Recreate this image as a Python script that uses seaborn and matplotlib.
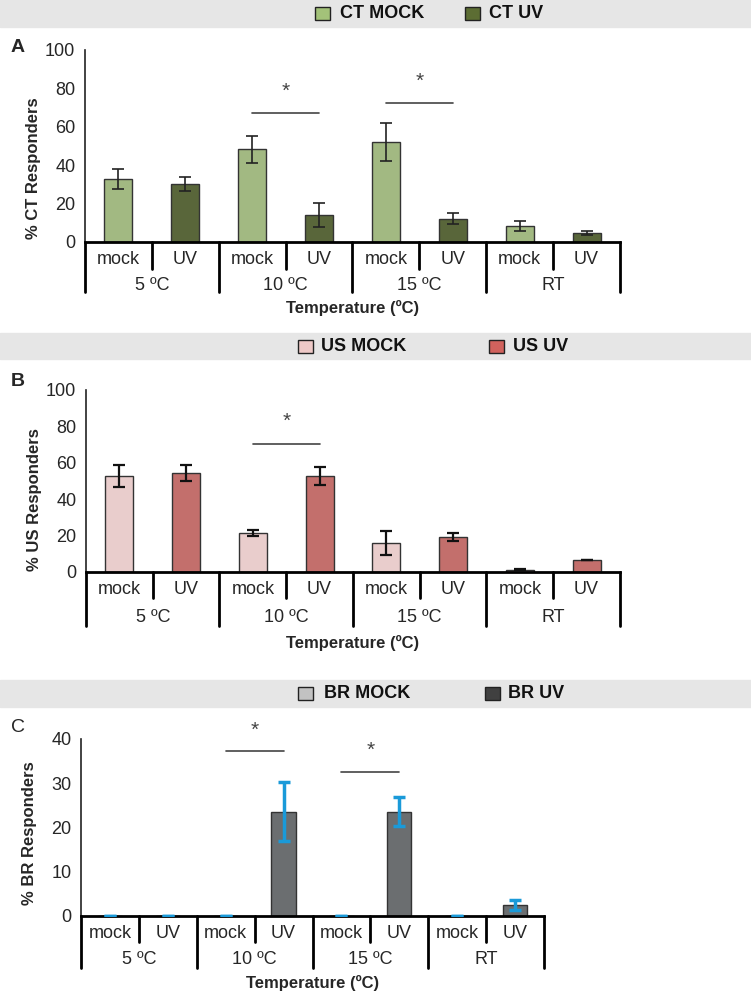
import matplotlib
matplotlib.use('Agg')
import matplotlib.pyplot as plt
from matplotlib.patches import Rectangle
import pandas as pd
import seaborn as sns

W, H = 751, 992

temps = ['5 ºC', '10 ºC', '15 ºC', 'RT']
treats = ['mock', 'UV']

# panel A - CT
ct_mock = [33, 48.2, 52, 8.4]
ct_mock_err = [5.2, 7, 10, 2.5]
ct_uv = [30.4, 14.1, 12.2, 4.7]
ct_uv_err = [3.7, 6.3, 3, 1]
ct_sig = [(1, 67.3, 78.5), (2, 72.5, 83.5)]   # (temp index, line height, star height)

# panel B - US
us_mock = [52.6, 21.4, 16, 1.2]
us_mock_err = [6, 1.8, 6.8, 0.5]
us_uv = [54.4, 52.8, 19.4, 6.8]
us_uv_err = [4.3, 5, 2.3, 0]
us_sig = [(1, 70.5, 83)]

# panel C - BR
br_mock = [0, 0, 0, 0]
br_mock_err = [0, 0, 0, 0]
br_uv = [0, 23.6, 23.6, 2.5]
br_uv_err = [0, 6.6, 3.3, 1.2]
br_sig = [(1, 37.2, 42), (2, 32.6, 37.5)]

FONT = ['Liberation Sans', 'Arial', 'DejaVu Sans']

sns.set_style('white')
plt.rcParams['font.family'] = FONT


def fx(px):
    return px / W


def fy(py):
    return 1 - py / H


def legend_band(fig, top, bottom, items):
    fig.patches.append(Rectangle((0, fy(bottom)), 1, (bottom - top) / H,
                                 transform=fig.transFigure, color='#e6e6e6', zorder=0))
    yc = (top + bottom) / 2
    for label, color, sx, tx in items:
        fig.patches.append(Rectangle((fx(sx), fy(yc + 6.5)), fx(15), 13 / H,
                                     transform=fig.transFigure, facecolor=color,
                                     edgecolor='#222222', linewidth=1, zorder=2))
        fig.text(fx(tx), fy(yc), label, ha='left', va='center', fontsize=13,
                 fontweight='bold', color='#111111')


def draw_panel(ax, mock, mock_err, uv, uv_err, colors, ymax, ystep, sig,
               ylabel, ylabel_y, ecolor, elw, offs):
    df = pd.DataFrame({
        'pos': [f'{t}|{s}' for t in temps for s in treats],
        'treat': [s for t in temps for s in treats],
        'value': [v for pair in zip(mock, uv) for v in pair],
        'err': [v for pair in zip(mock_err, uv_err) for v in pair],
    })
    sns.barplot(data=df, x='pos', y='value', hue='treat', order=list(df['pos']),
                hue_order=treats, palette=colors, dodge=False, width=0.42,
                edgecolor='#333333', linewidth=1, errorbar=None, legend=False, ax=ax)
    xs = ax.get_xticks()
    ax.errorbar(xs, df['value'], yerr=df['err'], fmt='none', ecolor=ecolor,
                elinewidth=elw, capsize=4, capthick=elw, zorder=5)

    ax.set_xlim(-0.5, len(xs) - 0.5)
    ax.set_ylim(0, ymax)
    ax.set_yticks(range(0, ymax + 1, ystep))
    ax.tick_params(axis='y', labelsize=13, length=4, width=1, direction='out', pad=3)
    ax.tick_params(axis='x', length=0, labelbottom=False)
    ax.set_xlabel('')
    sns.despine(ax=ax)
    ax.spines['left'].set_linewidth(1.2)
    ax.spines['bottom'].set_linewidth(2)
    ax.spines['bottom'].set_color('black')
    ax.spines['left'].set_color('#222222')

    ax.set_ylabel(ylabel, fontsize=12, fontweight='bold')
    ax.yaxis.set_label_coords(-44 / (ax.get_position().width * W), ylabel_y)

    # multi-level category axis
    sub_txt, grp_txt, xl_txt, sub_len, grp_len = offs
    hpx = ax.get_position().height * H
    tr = ax.get_xaxis_transform()
    for i, x in enumerate(xs):
        ax.text(x, -sub_txt / hpx, df['treat'][i], transform=tr, ha='center',
                va='center', fontsize=13)
    for g, t in enumerate(temps):
        mid = (xs[2 * g] + xs[2 * g + 1]) / 2
        ax.text(mid, -grp_txt / hpx, t, transform=tr, ha='center', va='center',
                fontsize=13)
        ax.plot([mid, mid], [0, -sub_len / hpx], transform=tr, color='black',
                lw=2, clip_on=False)
    for b in range(len(temps) + 1):
        xb = -0.5 + 2 * b
        ax.plot([xb, xb], [0, -grp_len / hpx], transform=tr, color='black',
                lw=2, clip_on=False)
    ax.text(0.5, -xl_txt / hpx, 'Temperature (ºC)', transform=ax.transAxes,
            ha='center', va='center', fontsize=12, fontweight='bold')

    # significance bars
    for g, yline, ystar in sig:
        ax.plot([xs[2 * g], xs[2 * g + 1]], [yline, yline], color='#444444',
                lw=1.2, clip_on=False)
        ax.text((xs[2 * g] + xs[2 * g + 1]) / 2, ystar, '*', ha='center',
                va='center', fontsize=15, color='#444444', clip_on=False)


fig = plt.figure(figsize=(W / 100, H / 100), dpi=100)

legend_band(fig, 0, 27, [('CT MOCK', '#a3c279', 315, 340),
                         ('CT UV', '#5c6d33', 465, 489)])
legend_band(fig, 333, 359, [('US MOCK', '#eec9c7', 298, 321),
                            ('US UV', '#d1625d', 489, 513)])
legend_band(fig, 680, 707, [('BR MOCK', '#c2c2c2', 298, 324),
                            ('BR UV', '#404040', 485, 508)])

axA = fig.add_axes([fx(85), fy(242), fx(620 - 85), (242 - 50) / H])
draw_panel(axA, ct_mock, ct_mock_err, ct_uv, ct_uv_err,
           {'mock': '#a3c279', 'UV': '#5c6d33'}, 100, 20, ct_sig,
           '% CT Responders', 0.385, '#222222', 1.2, (18, 43, 66, 27, 50))

axB = fig.add_axes([fx(86), fy(572), fx(620 - 86), (572 - 390) / H])
draw_panel(axB, us_mock, us_mock_err, us_uv, us_uv_err,
           {'mock': '#eec9c7', 'UV': '#d1625d'}, 100, 20, us_sig,
           '% US Responders', 0.40, '#111111', 1.6, (17, 46, 71, 26, 54))

axC = fig.add_axes([fx(81), fy(916), fx(544 - 81), (916 - 739) / H])
draw_panel(axC, br_mock, br_mock_err, br_uv, br_uv_err,
           {'mock': '#c2c2c2', 'UV': '#6a6e71'}, 40, 10, br_sig,
           '% BR Responders', 0.47, '#1a9ad9', 2.5, (17, 43, 67, 26, 52))

for letter, (px, py), wt in [('A', (18, 48), 'bold'), ('B', (18, 381), 'bold'),
                             ('C', (18, 728), 'normal')]:
    fig.text(fx(px), fy(py), letter, ha='center', va='center', fontsize=14,
             fontweight=wt)

plt.savefig('out.png', dpi=100)
